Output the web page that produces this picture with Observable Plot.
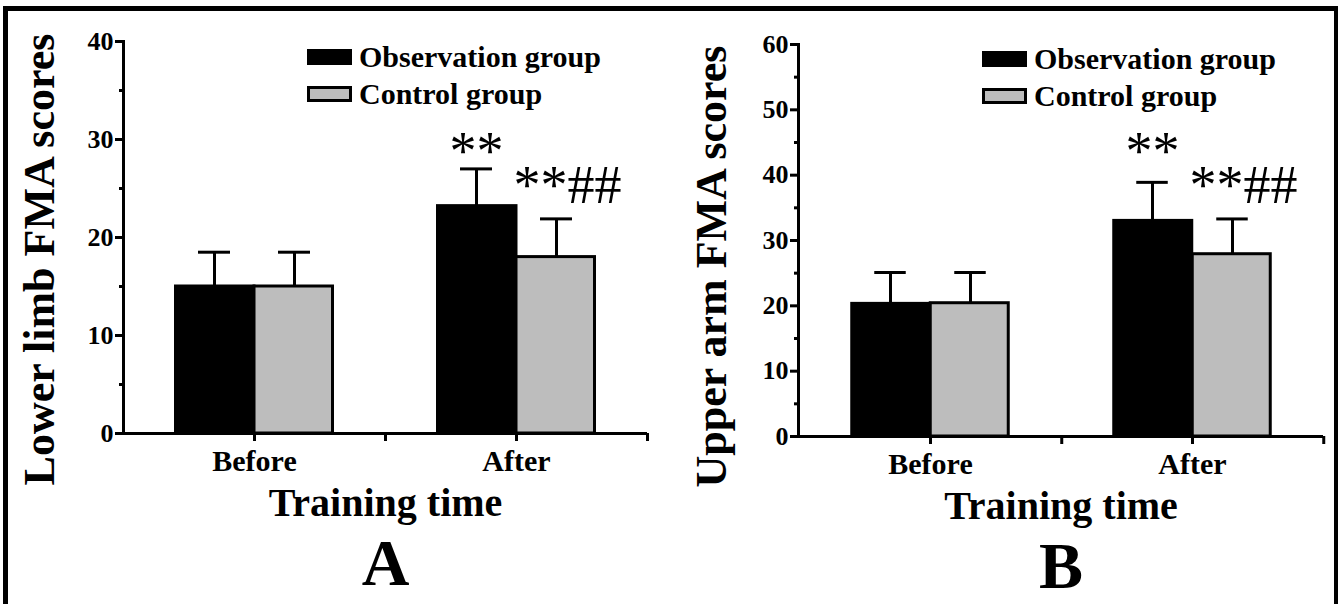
<!DOCTYPE html>
<html>
<head>
<meta charset="utf-8">
<script src="https://cdn.jsdelivr.net/npm/d3@7"></script>
<script src="https://cdn.jsdelivr.net/npm/@observablehq/plot@0.6"></script>
<style>
  body { margin: 0; background: #fff; }
  #root { position: relative; width: 1339px; height: 604px; overflow: hidden; background: #fff;
          font-family: "Liberation Serif", "Times New Roman", serif; color: #000; }
  .panel { position: absolute; top: 0; }
  #frame { position: absolute; left: 3px; top: 6px; width: 1326px; height: 700px;
           border-left: 5px solid #000; border-top: 5px solid #000; border-right: 4px solid #000; }
  .legrow { position: absolute; display: flex; align-items: center; height: 30px; line-height: 30px;
            font-size: 30px; font-weight: bold; white-space: nowrap; }
  .sw { display: inline-block; box-sizing: border-box; width: 45px; height: 16px; margin-right: 7px;
        border: 3px solid #000; }
</style>
</head>
<body>
<div id="root"><div id="frame"></div></div>
<script>
// ---- data ----
const categories = ["Before", "After"];
const groups = ["Observation group", "Control group"];

const lowerObsMean = [15.0, 23.2];
const lowerObsSD = [3.5, 3.8];
const lowerCtrlMean = [15.0, 18.0];
const lowerCtrlSD = [3.5, 3.9];

const upperObsMean = [20.3, 33.0];
const upperObsSD = [4.8, 5.9];
const upperCtrlMean = [20.4, 27.9];
const upperCtrlSD = [4.7, 5.4];

const obsNotes = ["", "**"];
const ctrlNotes = ["", "**##"];

const lowerTicks = [0, 10, 20, 30, 40];
const lowerMinorTicks = [5, 15, 25, 35];
const upperTicks = [0, 10, 20, 30, 40, 50, 60];
const upperMinorTicks = [5, 15, 25, 35, 45, 55];

const xTitle = "Training time";
const groupColors = ["#000000", "#bdbdbd"];

function rows(means, sds, notes, group) {
  return categories.map((c, i) => ({category: c, group, mean: means[i], sd: sds[i], top: means[i] + sds[i], note: notes[i]}));
}

function makePanel(cfg) {
  const {width, height, ml, mr, mt, mb, obs, ctrl, ticks, minorTicks, yLabel, letter,
         yLabelDx, yLabelDy, obsNoteDy, ctrlNoteDy} = cfg;
  const sw = 3;
  const bw = (width - ml - mr) / categories.length;
  const half = bw / 2;
  const barW = 80;
  const capHalf = 16;
  const serif = "Liberation Serif";
  return Plot.plot({
    width, height,
    marginLeft: ml, marginRight: mr, marginTop: mt, marginBottom: mb,
    style: {fontFamily: serif, background: "transparent", overflow: "visible", color: "#000"},
    x: {domain: categories, padding: 0},
    y: {domain: [ticks[0], ticks[ticks.length - 1]]},
    marks: [
      // bars
      Plot.barY(obs, {x: "category", y: "mean", fill: groupColors[0], stroke: "#000", strokeWidth: sw,
        insetLeft: half - barW + sw / 2, insetRight: half}),
      Plot.barY(ctrl, {x: "category", y: "mean", fill: groupColors[1], stroke: "#000", strokeWidth: sw,
        insetLeft: half, insetRight: half - barW + sw / 2}),
      // error bars (upper only)
      Plot.ruleX(obs, {x: "category", y1: "mean", y2: "top", stroke: "#000", strokeWidth: sw, dx: -barW / 2}),
      Plot.ruleX(ctrl, {x: "category", y1: "mean", y2: "top", stroke: "#000", strokeWidth: sw, dx: barW / 2}),
      Plot.tickY(obs, {x: "category", y: "top", stroke: "#000", strokeWidth: sw,
        insetLeft: half - barW / 2 - capHalf, insetRight: half + barW / 2 - capHalf}),
      Plot.tickY(ctrl, {x: "category", y: "top", stroke: "#000", strokeWidth: sw,
        insetLeft: half + barW / 2 - capHalf, insetRight: half - barW / 2 - capHalf}),
      // significance marks
      Plot.text(obs, {x: "category", y: "top", text: "note", fontSize: 54, lineAnchor: "bottom",
        dx: -barW / 2, dy: obsNoteDy, fill: "#000"}),
      Plot.text(ctrl, {x: "category", y: "top", text: "note", fontSize: 54, lineAnchor: "bottom",
        dx: barW / 2 + 11, dy: ctrlNoteDy, fill: "#000"}),
      // axes
      Plot.axisY({ticks, tickSize: 8, tickPadding: 2, fontSize: 26, fontWeight: "bold",
        strokeWidth: sw, label: null}),
      Plot.axisY({ticks: minorTicks, tickSize: 4, text: null, strokeWidth: sw, label: null}),
      Plot.axisX({tickSize: 8, tickPadding: 8, fontSize: 30, fontWeight: "bold", strokeWidth: sw, label: null}),
      Plot.axisX({tickSize: 8, text: null, strokeWidth: sw, label: null, dx: half}),
      Plot.frame({anchor: "left", strokeWidth: sw}),
      Plot.ruleY([0], {strokeWidth: sw, insetLeft: -4}),
      // titles
      Plot.text([yLabel], {frameAnchor: "left", textAnchor: "middle", rotate: -90, dx: yLabelDx, dy: yLabelDy,
        fontSize: 44, fontWeight: "bold", fill: "#000"}),
      Plot.text([xTitle], {frameAnchor: "bottom", dy: 82, fontSize: 40, fontWeight: "bold", fill: "#000"}),
      Plot.text([letter], {frameAnchor: "bottom", dy: 151, fontSize: 66, fontWeight: "bold", fill: "#000"})
    ]
  });
}

const root = document.getElementById("root");

function place(node, left) {
  node.classList.add("panel");
  node.style.left = left + "px";
  root.appendChild(node);
}

function legend(left, top) {
  groups.forEach((g, i) => {
    const row = document.createElement("div");
    row.className = "legrow";
    row.style.left = left + "px";
    row.style.top = (top + i * 37) + "px";
    const s = document.createElement("span");
    s.className = "sw";
    s.style.background = groupColors[i];
    row.appendChild(s);
    row.appendChild(document.createTextNode(g));
    root.appendChild(row);
  });
}

const panelA = makePanel({
  width: 670, height: 604, ml: 123, mr: 23, mt: 41, mb: 171,
  obs: rows(lowerObsMean, lowerObsSD, obsNotes, groups[0]),
  ctrl: rows(lowerCtrlMean, lowerCtrlSD, ctrlNotes, groups[1]),
  ticks: lowerTicks, minorTicks: lowerMinorTicks,
  yLabel: "Lower limb FMA scores", letter: "A",
  yLabelDx: -84, yLabelDy: 22, obsNoteDy: 0, ctrlNoteDy: -16
});
place(panelA, 0);

const panelB = makePanel({
  width: 669, height: 604, ml: 128, mr: 16, mt: 44, mb: 168,
  obs: rows(upperObsMean, upperObsSD, obsNotes, groups[0]),
  ctrl: rows(upperCtrlMean, upperCtrlSD, ctrlNotes, groups[1]),
  ticks: upperTicks, minorTicks: upperMinorTicks,
  yLabel: "Upper arm FMA scores", letter: "B",
  yLabelDx: -87, yLabelDy: 26, obsNoteDy: -13, ctrlNoteDy: -16
});
place(panelB, 670);

legend(307, 42);
legend(982, 44);
</script>
</body>
</html>
